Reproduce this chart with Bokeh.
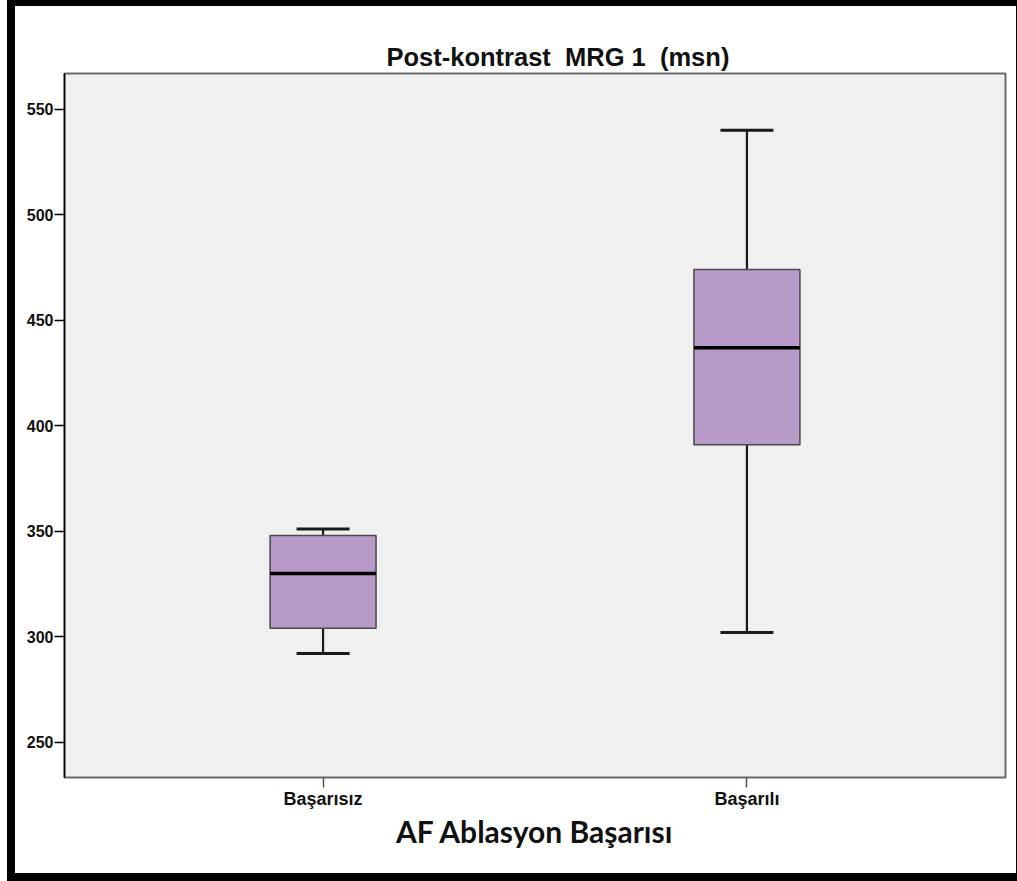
from bokeh.plotting import figure
from bokeh.models import FactorRange, Range1d, FixedTicker, Whisker, TeeHead, ColumnDataSource
from bokeh.transform import dodge
from bokeh.embed import file_html
from bokeh.resources import INLINE

# ---- data ----
categories = ["Başarısız", "Başarılı"]
lower_whisker = [292, 302]
q1 = [304, 391]
median = [330, 437]
q3 = [348, 474]
upper_whisker = [351, 540]
y_ticks = [250, 300, 350, 400, 450, 500, 550]

title_text = "Post-kontrast\u00a0 MRG 1\u00a0 (msn)"
x_label = "AF Ablasyon Başarısı"

src = ColumnDataSource(dict(cat=categories, lw=lower_whisker, q1=q1,
                            med=median, q3=q3, uw=upper_whisker))

p = figure(width=1017, height=881, output_backend="svg", toolbar_location=None,
           x_range=FactorRange(factors=categories, range_padding=0.11,
                               range_padding_units="absolute"),
           y_range=Range1d(233.3, 566.9),
           min_border_left=64, min_border_right=12, min_border_top=73,
           min_border_bottom=104)

# outer black frame of the picture (drawn behind a transparent canvas border)
p.styles = {"background": "white",
            "box-shadow": "inset 7px 0 0 0 white, inset 15px 6px 0 0 black, inset -1px -8px 0 0 black"}

# frame
p.background_fill_color = "#f0f0f0"
p.border_fill_color = "white"
p.border_fill_alpha = 0
p.outline_line_color = "#6a6a6a"
p.outline_line_width = 2
p.xgrid.visible = False
p.ygrid.visible = False

# title
p.title.text = title_text
p.title.align = "left"
p.title.offset = 322
p.title.text_font = "Liberation Sans"
p.title.text_font_size = "25.5px"
p.title.text_font_style = "bold"
p.title.text_color = "#111111"
p.title.standoff = 6

# y axis
ya = p.yaxis[0]
ya.ticker = FixedTicker(ticks=y_ticks)
ya.axis_line_color = "black"
ya.axis_line_width = 1.5
ya.major_tick_in = 0
ya.major_tick_out = 10
ya.major_tick_line_color = "black"
ya.major_tick_line_width = 1.5
ya.minor_tick_line_color = None
ya.major_label_text_font = "Liberation Sans"
ya.major_label_text_font_size = "16px"
ya.major_label_text_font_style = "bold"
ya.major_label_text_color = "#111111"
ya.major_label_standoff = 1

# x axis
xa = p.xaxis[0]
xa.axis_line_color = None
xa.major_tick_in = 0
xa.major_tick_out = 10
xa.major_tick_line_color = "#555555"
xa.major_tick_line_width = 1.5
xa.minor_tick_line_color = None
xa.major_label_text_font = "Liberation Sans"
xa.major_label_text_font_size = "18px"
xa.major_label_text_font_style = "bold"
xa.major_label_text_color = "#111111"
xa.major_label_standoff = 1
xa.axis_label = x_label
xa.axis_label_text_font = "Lato"
xa.axis_label_text_font_size = "30px"
xa.axis_label_text_font_style = "bold"
xa.axis_label_text_color = "#111111"
xa.axis_label_standoff = 1

# whiskers
w = Whisker(source=src, base="cat", upper="uw", lower="lw",
            line_color="#1a1a1a", line_width=2.2,
            upper_head=TeeHead(size=53, line_color="#1a1a1a", line_width=3),
            lower_head=TeeHead(size=53, line_color="#1a1a1a", line_width=3))
p.add_layout(w)

# boxes
p.vbar(x="cat", top="q3", bottom="q1", width=0.25, source=src,
       fill_color="#b89ac9", line_color="#4a4a4a", line_width=1.5)

# medians
p.segment(x0=dodge("cat", -0.125, range=p.x_range), x1=dodge("cat", 0.125, range=p.x_range),
          y0="med", y1="med", source=src, line_color="black", line_width=3.5)

open("out.html", "w").write(file_html(p, INLINE))
